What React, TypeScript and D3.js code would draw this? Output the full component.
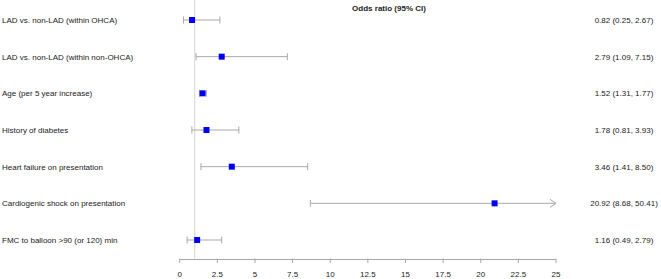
import React from "react";
import * as d3 from "d3";

const labels = [
  "LAD vs. non-LAD (within OHCA)",
  "LAD vs. non-LAD (within non-OHCA)",
  "Age (per 5 year increase)",
  "History of diabetes",
  "Heart failure on presentation",
  "Cardiogenic shock on presentation",
  "FMC to balloon >90 (or 120) min",
];
const oddsRatio = [0.82, 2.79, 1.52, 1.78, 3.46, 20.92, 1.16];
const lower = [0.25, 1.09, 1.31, 0.81, 1.41, 8.68, 0.49];
const upper = [2.67, 7.15, 1.77, 3.93, 8.5, 50.41, 2.79];
const ciText = [
  "0.82 (0.25, 2.67)",
  "2.79 (1.09, 7.15)",
  "1.52 (1.31, 1.77)",
  "1.78 (0.81, 3.93)",
  "3.46 (1.41, 8.50)",
  "20.92 (8.68, 50.41)",
  "1.16 (0.49, 2.79)",
];
const xTicks = [0, 2.5, 5, 7.5, 10, 12.5, 15, 17.5, 20, 22.5, 25];
const header = "Odds ratio (95% CI)";

export default function App() {
  const W = 661;
  const H = 279;
  const x = d3.scaleLinear().domain([0, 25]).range([179.7, 556]);
  const y = d3.scaleLinear().domain([0, labels.length - 1]).range([20, 240]);
  const axisY = 259.5;
  const font = "Liberation Sans, Arial, sans-serif";
  const lineCol = "#a9a9a9";
  const textCol = "#222";
  const xMax = 25;

  return (
    <svg
      width={W}
      height={H}
      style={{ position: "absolute", left: 0, top: 0 }}
      fontFamily={font}
    >
      <rect x={0} y={0} width={W} height={H} fill="#fff" />
      {/* reference line at 1 */}
      <line x1={x(1)} x2={x(1)} y1={0} y2={axisY} stroke="#d4d4d4" strokeWidth={1} />
      <text x={389} y={11} fontSize={8} fontWeight="bold" textAnchor="middle" fill={textCol}>
        {header}
      </text>
      {labels.map((lab, i) => {
        const cy = y(i);
        const lo = x(lower[i]);
        const hiClipped = upper[i] > xMax;
        const hi = x(Math.min(upper[i], xMax));
        return (
          <g key={i}>
            <text x={2} y={cy + 3} fontSize={8} fill={textCol}>
              {lab}
            </text>
            <line x1={lo} x2={hi} y1={cy} y2={cy} stroke={lineCol} strokeWidth={1} />
            <line x1={lo} x2={lo} y1={cy - 3.5} y2={cy + 3.5} stroke={lineCol} strokeWidth={1} />
            {hiClipped ? (
              <path
                d={`M${hi - 6},${cy - 4} L${hi},${cy} L${hi - 6},${cy + 4}`}
                fill="none"
                stroke={lineCol}
                strokeWidth={1}
              />
            ) : (
              <line x1={hi} x2={hi} y1={cy - 3.5} y2={cy + 3.5} stroke={lineCol} strokeWidth={1} />
            )}
            <rect
              x={x(oddsRatio[i]) - 3}
              y={cy - 3}
              width={6}
              height={6}
              fill="#0000ee"
            />
            <text x={624} y={cy + 3} fontSize={8} textAnchor="middle" fill={textCol}>
              {ciText[i]}
            </text>
          </g>
        );
      })}
      {/* axis */}
      <line x1={x(0)} x2={x(25)} y1={axisY} y2={axisY} stroke={lineCol} strokeWidth={1} />
      {xTicks.map((t) => (
        <g key={t}>
          <line x1={x(t)} x2={x(t)} y1={axisY - 1} y2={axisY + 3.5} stroke={lineCol} strokeWidth={1} />
          <text x={x(t)} y={277.3} fontSize={8} textAnchor="middle" fill={textCol}>
            {String(t)}
          </text>
        </g>
      ))}
    </svg>
  );
}
